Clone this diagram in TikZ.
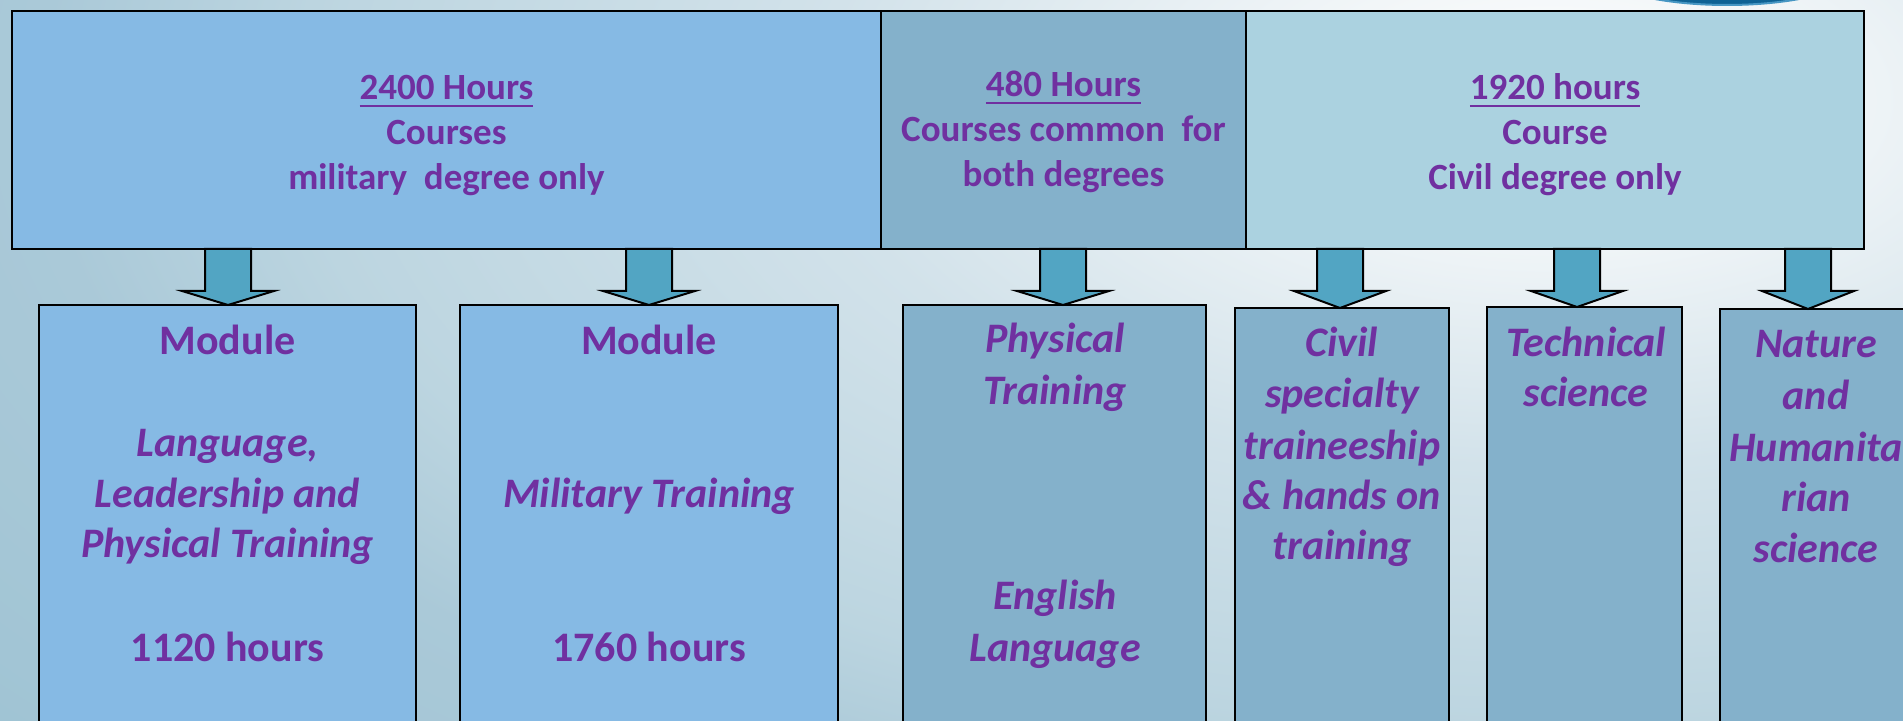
\documentclass[tikz,border=0pt]{standalone}
\usepackage{fontspec}
\setmainfont{Carlito}
\definecolor{txt}{RGB}{112,48,160}
\definecolor{boxA}{RGB}{134,186,228}
\definecolor{boxB}{RGB}{132,177,203}
\definecolor{boxC}{RGB}{171,210,224}
\definecolor{arrc}{RGB}{82,165,195}
\definecolor{bg1}{RGB}{242,246,248}
\definecolor{bg2}{RGB}{210,226,234}
\definecolor{bg3}{RGB}{188,213,224}
\definecolor{bg4}{RGB}{170,201,216}
\definecolor{bg5}{RGB}{160,196,212}
\definecolor{logo}{RGB}{14,98,148}
\definecolor{logoedge}{RGB}{70,150,195}
\pgfdeclareradialshading{bgrad}{\pgfpoint{0bp}{0bp}}{color(0bp)=(white); color(3bp)=(bg1); color(8.5bp)=(bg2); color(14.5bp)=(bg3); color(17.5bp)=(bg4); color(23bp)=(bg5); color(50bp)=(bg5)}
\newcommand\hrsul[1]{\setbox0\hbox{#1}\rlap{\rule[-3.7pt]{\wd0}{1.4pt}}\box0}
\newcommand\blockarr[3]{%
  \draw[arrstyle] (#1-23,0 |- #2.south) -- (#1-23,291) -- (#1-46,291) -- (#1,0 |- #3.north)
    -- (#1+46,291) -- (#1+23,291) -- (#1+23,0 |- #2.south) -- cycle;}
\begin{document}
\begin{tikzpicture}[x=0.5pt,y=-0.5pt,
  boxstyle/.style={draw=black,line width=1pt,inner sep=0pt,outer sep=0pt,rectangle},
  arrstyle/.style={draw=black,line width=1pt,fill=arrc,line join=miter},
  toptext/.style={text=txt,font=\fontsize{18.5}{22.5}\selectfont\bfseries,anchor=base,inner sep=0pt},
  bottext/.style={text=txt,font=\fontsize{21}{25.5}\selectfont\bfseries,anchor=base,inner sep=0pt},
  botit/.style={bottext,font=\fontsize{21}{25.5}\selectfont\bfseries\itshape}]
\useasboundingbox (0,0) rectangle (1903,721);
\clip (0,0) rectangle (1903,721);
\shade[shading=bgrad] (1550,100) ellipse [x radius=1080pt, y radius=540pt];
% logo fragment
\fill[logo,draw=logoedge,line width=1pt] (1727,-35) ellipse [x radius=68.5pt, y radius=20pt];
% top boxes
\node[boxstyle,fill=boxA,minimum width=434.5pt,minimum height=119pt] (top1) at (446.5,130) {};
\node[boxstyle,fill=boxB,minimum width=182.5pt,minimum height=119pt] (top2) at (1063.5,130) {};
\node[boxstyle,fill=boxC,minimum width=309pt,minimum height=119pt] (top3) at (1555,130) {};
% bottom boxes
\node[boxstyle,fill=boxA,minimum width=188.5pt,minimum height=217.5pt] (b1) at (227.5,522.5) {};
\node[boxstyle,fill=boxA,minimum width=189pt,minimum height=217.5pt] (b2) at (649,522.5) {};
\node[boxstyle,fill=boxB,minimum width=151.5pt,minimum height=217.5pt] (b3) at (1054.5,522.5) {};
\node[boxstyle,fill=boxB,minimum width=107pt,minimum height=216pt] (b4) at (1342,524) {};
\node[boxstyle,fill=boxB,minimum width=97.5pt,minimum height=216.5pt] (b5) at (1584.5,523.5) {};
\node[boxstyle,fill=boxB,minimum width=96pt,minimum height=215.5pt] (b6) at (1816,524.5) {};
% block arrows
\blockarr{228}{top1}{b1}
\blockarr{649}{top1}{b2}
\blockarr{1063}{top2}{b3}
\blockarr{1340}{top3}{b4}
\blockarr{1577}{top3}{b5}
\blockarr{1808}{top3}{b6}
% top texts
\node[toptext] (t1a) at (446.5,100) {\hrsul{2400 Hours}};
\node[toptext] (t1b) at (446.5,145) {Courses};
\node[toptext] (t1c) at (446.5,190) {military\ \ degree only};
\node[toptext] (t2a) at (1063.5,97) {\hrsul{480 Hours}};
\node[toptext] (t2b) at (1063.5,142) {Courses common\ \ for};
\node[toptext] (t2c) at (1063.5,187) {both degrees};
\node[toptext] (t3a) at (1555,100) {\hrsul{1920 hours}};
\node[toptext] (t3b) at (1555,145) {Course};
\node[toptext] (t3c) at (1555,190) {Civil degree only};
% box 1
\node[bottext] (b1a) at (227.5,355) {Module};
\node[botit] (b1b) at (227.5,457) {Language,};
\node[botit] (b1c) at (227.5,508) {Leadership and};
\node[botit] (b1d) at (227.5,558) {Physical Training};
\node[bottext] (b1e) at (227.5,662) {1120 hours};
% box 2
\node[bottext] (b2a) at (649,355) {Module};
\node[botit] (b2b) at (649,508) {Military Training};
\node[bottext] (b2c) at (649,662) {1760 hours};
% box 3
\node[botit] (b3a) at (1055,353) {Physical};
\node[botit] (b3b) at (1055,405) {Training};
\node[botit] (b3c) at (1055,610) {English};
\node[botit] (b3d) at (1055,662) {Language};
% box 4
\node[botit] (b4a) at (1342,357) {Civil};
\node[botit] (b4b) at (1342,408) {specialty};
\node[botit] (b4c) at (1342,460) {traineeship};
\node[botit] (b4d) at (1342,510) {\& hands on};
\node[botit] (b4e) at (1342,560) {training};
% box 5
\node[botit] (b5a) at (1586,357) {Technical};
\node[botit] (b5b) at (1586,407) {science};
% box 6
\node[botit] (b6a) at (1816,358) {Nature};
\node[botit] (b6b) at (1816,410) {and};
\node[botit] (b6c) at (1816,462) {Humanita};
\node[botit] (b6d) at (1816,512) {rian};
\node[botit] (b6e) at (1816,563) {science};
\end{tikzpicture}
\end{document}
